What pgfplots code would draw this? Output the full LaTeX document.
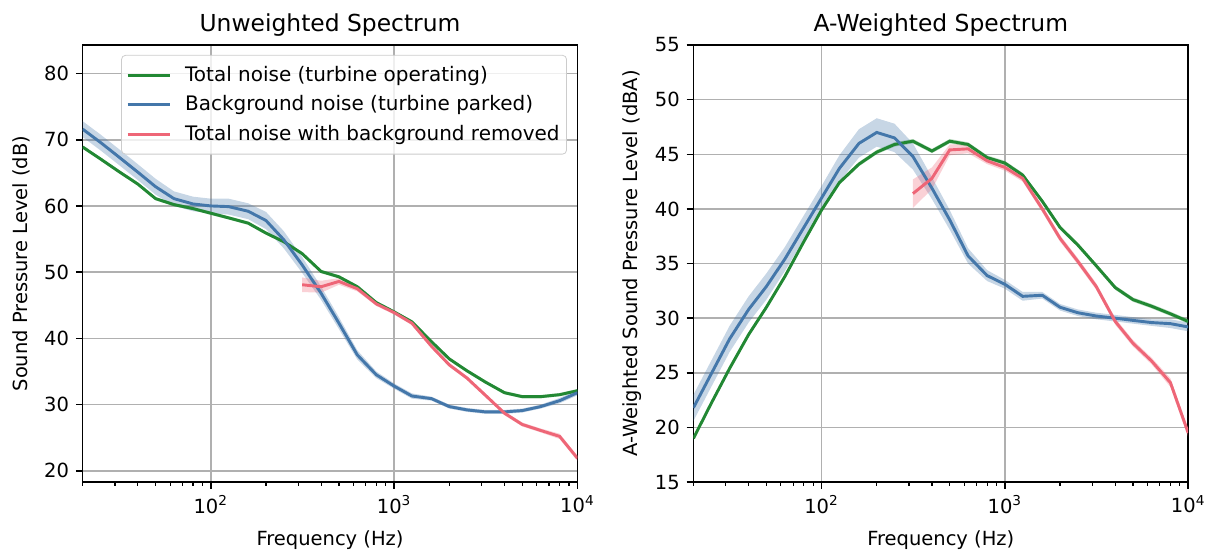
\documentclass[border=0pt]{standalone}
\usepackage{fontspec}
\setmainfont{DejaVu Sans}
\usepackage{pgfplots}
\usepackage{pgfplotstable}
\pgfplotsset{compat=1.18}
\usepgfplotslibrary{fillbetween}

\definecolor{tgreen}{HTML}{228833}
\definecolor{tblue}{HTML}{4477AA}
\definecolor{tred}{HTML}{EE6677}
\definecolor{gridgray}{HTML}{B0B0B0}

% Unweighted
\pgfplotstableread{
f y e
20 68.9 0.25
25 67.1 0.25
31.5 65.2 0.25
40 63.3 0.25
50 61.1 0.25
63 60.2 0.25
80 59.6 0.25
100 58.9 0.25
125 58.2 0.25
160 57.4 0.25
200 55.9 0.25
250 54.6 0.25
315 52.8 0.25
400 50.1 0.25
500 49.3 0.25
630 47.8 0.25
800 45.4 0.25
1000 44.0 0.25
1250 42.5 0.25
1600 39.5 0.25
2000 36.9 0.25
2500 35.1 0.25
3150 33.4 0.25
4000 31.8 0.25
5000 31.2 0.25
6300 31.2 0.25
8000 31.5 0.25
10000 32.1 0.25
}\LG
\pgfplotstableread{
f y e
20 71.6 1.2
25 69.6 1.2
31.5 67.4 1.2
40 65.1 1.2
50 62.9 1.2
63 61.1 1.1
80 60.3 1.1
100 60.0 1.1
125 59.9 1.2
160 59.2 1.2
200 57.8 1.3
250 54.9 1.3
315 51.1 1.2
400 46.8 1.0
500 42.3 0.9
630 37.5 0.7
800 34.5 0.5
1000 32.8 0.4
1250 31.3 0.4
1600 30.9 0.3
2000 29.7 0.3
2500 29.2 0.3
3150 28.9 0.3
4000 28.9 0.3
5000 29.1 0.3
6300 29.7 0.3
8000 30.6 0.4
10000 31.8 0.4
}\LB
\pgfplotstableread{
f y e
315 48.1 1.1
400 47.8 0.9
500 48.6 0.5
630 47.5 0.4
800 45.2 0.3
1000 43.9 0.3
1250 42.3 0.3
1600 38.8 0.3
2000 36.0 0.3
2500 34.0 0.3
3150 31.4 0.3
4000 28.7 0.3
5000 27.0 0.3
6300 26.1 0.3
8000 25.2 0.4
10000 21.9 0.4
}\LR
% A-weighted
\pgfplotstableread{
f y e
20 19.0 0.2
25 22.2 0.2
31.5 25.4 0.2
40 28.5 0.2
50 31.0 0.2
63 33.8 0.2
80 37.0 0.2
100 39.9 0.2
125 42.4 0.2
160 44.1 0.2
200 45.2 0.2
250 45.9 0.2
315 46.2 0.2
400 45.3 0.2
500 46.2 0.2
630 45.9 0.2
800 44.7 0.2
1000 44.2 0.2
1250 43.1 0.2
1600 40.7 0.2
2000 38.3 0.2
2500 36.7 0.2
3150 34.8 0.2
4000 32.8 0.2
5000 31.7 0.2
6300 31.1 0.2
8000 30.4 0.2
10000 29.7 0.2
}\RG
\pgfplotstableread{
f y e
20 21.8 1.2
25 24.9 1.2
31.5 28.1 1.2
40 30.8 1.2
50 32.9 1.2
63 35.4 1.1
80 38.3 1.1
100 41.0 1.1
125 43.7 1.2
160 46.0 1.3
200 47.0 1.3
250 46.5 1.3
315 44.8 1.2
400 41.9 1.0
500 39.0 0.9
630 35.7 0.7
800 33.9 0.5
1000 33.1 0.4
1250 32.0 0.4
1600 32.1 0.3
2000 31.0 0.3
2500 30.5 0.3
3150 30.2 0.3
4000 30.0 0.3
5000 29.8 0.3
6300 29.6 0.3
8000 29.5 0.4
10000 29.2 0.4
}\RB
\pgfplotstableread{
f y e
315 41.4 1.3
400 42.8 1.0
500 45.4 0.5
630 45.5 0.4
800 44.4 0.3
1000 43.8 0.3
1250 42.8 0.3
1600 40.0 0.3
2000 37.3 0.3
2500 35.2 0.3
3150 32.9 0.3
4000 29.7 0.3
5000 27.7 0.3
6300 26.1 0.3
8000 24.1 0.4
10000 19.5 0.4
}\RR

\pgfplotsset{
  every axis/.append style={
    scale only axis, width=253.8pt, height=224.2pt,
    xmin=20, xmax=10000,
    xtick={100,1000,10000},
    xticklabels={10\textsuperscript{2},10\textsuperscript{3},10\textsuperscript{4}},
    minor xtick={20,30,40,50,60,70,80,90,200,300,400,500,600,700,800,900,2000,3000,4000,5000,6000,7000,8000,9000},
    grid=major,
    major grid style={line width=0.8pt, color=gridgray},
    axis line style={line width=0.8pt},
    tick align=outside, tick pos=left,
    major tick length=3.5pt, minor tick length=2pt,
    major tick style={line width=0.8pt, black},
    minor tick style={line width=0.6pt, black},
    tick label style={font=\fontsize{10}{12}\selectfont},
    label style={font=\fontsize{10}{12}\selectfont},
    title style={font=\fontsize{12}{14}\selectfont, at={(axis description cs:0.5,1)}, anchor=base, yshift=0.8pt},
    xlabel style={at={(axis description cs:0.5,-0.133)}, anchor=center},
    xlabel={Frequency (Hz)},
    yticklabel style={/pgf/number format/assume math mode=true},
  },
}

\begin{document}
\begin{tikzpicture}
\begin{semilogxaxis}[at={(42.4pt,35.4pt)}, anchor=south west,
  ymin=18.3, ymax=84.3, ytick={20,30,40,50,60,70,80},
  title={Unweighted Spectrum},
  ylabel={Sound Pressure Level (dB)},
  ylabel style={at={(axis description cs:-0.1229,0.5)}, anchor=center},
  legend style={at={(axis description cs:1,1)}, anchor=north east, xshift=-5.4pt, yshift=-5.1pt,
    draw=black!20, rounded corners=2pt, fill=white, fill opacity=0.8, text opacity=1,
    font=\fontsize{10.25}{12}\selectfont, inner xsep=2.4pt, inner ysep=4.4pt, row sep=3.4pt,
    nodes={inner sep=1.2pt},
    /tikz/every odd column/.append style={column sep=5.6pt}},
  legend cell align=left,
  legend image code/.code={\draw[#1, line width=1.5pt] (0pt,0pt) -- (21.9pt,0pt);},
]
\addplot[draw=none, forget plot, name path=gu] table[x=f, y expr=\thisrow{y}+\thisrow{e}] {\LG};
\addplot[draw=none, forget plot, name path=gl] table[x=f, y expr=\thisrow{y}-\thisrow{e}] {\LG};
\addplot[tgreen, fill opacity=0.3, forget plot] fill between[of=gu and gl];
\addplot[tgreen, line width=1.5pt] table[x=f, y=y] {\LG};
\addlegendentry{Total noise (turbine operating)}
\addplot[draw=none, forget plot, name path=bu] table[x=f, y expr=\thisrow{y}+\thisrow{e}] {\LB};
\addplot[draw=none, forget plot, name path=bl] table[x=f, y expr=\thisrow{y}-\thisrow{e}] {\LB};
\addplot[tblue, fill opacity=0.3, forget plot] fill between[of=bu and bl];
\addplot[tblue, line width=1.5pt] table[x=f, y=y] {\LB};
\addlegendentry{Background noise (turbine parked)}
\addplot[draw=none, forget plot, name path=ru] table[x=f, y expr=\thisrow{y}+\thisrow{e}] {\LR};
\addplot[draw=none, forget plot, name path=rl] table[x=f, y expr=\thisrow{y}-\thisrow{e}] {\LR};
\addplot[tred, fill opacity=0.3, forget plot] fill between[of=ru and rl];
\addplot[tred, line width=1.5pt] table[x=f, y=y] {\LR};
\addlegendentry{Total noise with background removed}
\end{semilogxaxis}

\begin{semilogxaxis}[at={(355.7pt,35.4pt)}, anchor=south west,
  ymin=15, ymax=55, ytick={15,20,25,30,35,40,45,50,55},
  title={A-Weighted Spectrum},
  ylabel={A-Weighted Sound Pressure Level (dBA)},
  ylabel style={at={(axis description cs:-0.1245,0.5)}, anchor=center},
]
\addplot[draw=none, forget plot, name path=gu2] table[x=f, y expr=\thisrow{y}+\thisrow{e}] {\RG};
\addplot[draw=none, forget plot, name path=gl2] table[x=f, y expr=\thisrow{y}-\thisrow{e}] {\RG};
\addplot[tgreen, fill opacity=0.3, forget plot] fill between[of=gu2 and gl2];
\addplot[tgreen, line width=1.5pt] table[x=f, y=y] {\RG};
\addplot[draw=none, forget plot, name path=bu2] table[x=f, y expr=\thisrow{y}+\thisrow{e}] {\RB};
\addplot[draw=none, forget plot, name path=bl2] table[x=f, y expr=\thisrow{y}-\thisrow{e}] {\RB};
\addplot[tblue, fill opacity=0.3, forget plot] fill between[of=bu2 and bl2];
\addplot[tblue, line width=1.5pt] table[x=f, y=y] {\RB};
\addplot[draw=none, forget plot, name path=ru2] table[x=f, y expr=\thisrow{y}+\thisrow{e}] {\RR};
\addplot[draw=none, forget plot, name path=rl2] table[x=f, y expr=\thisrow{y}-\thisrow{e}] {\RR};
\addplot[tred, fill opacity=0.3, forget plot] fill between[of=ru2 and rl2];
\addplot[tred, line width=1.5pt] table[x=f, y=y] {\RR};
\end{semilogxaxis}
\pgfresetboundingbox
\path (0,0) rectangle (621.2pt,282.7pt);
\end{tikzpicture}
\end{document}
